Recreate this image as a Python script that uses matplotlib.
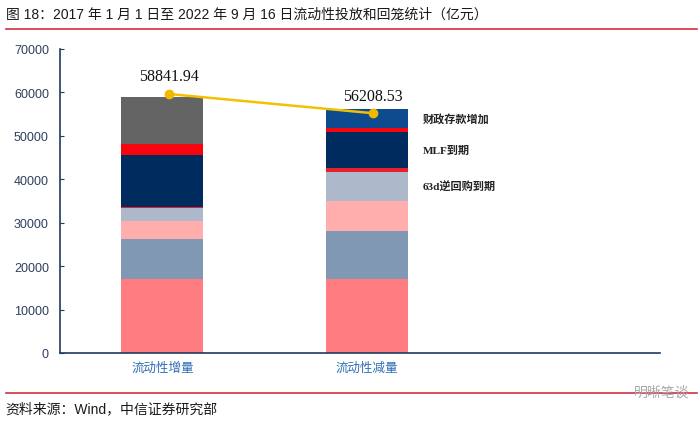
import matplotlib.pyplot as plt
import numpy as np

plt.rcParams['font.family'] = ['Liberation Sans', 'Noto Sans CJK SC', 'DejaVu Sans']

# data (亿元)
categories = ['流动性增量', '流动性减量']
totals = [58841.94, 56208.53]

seg_salmon = [17050, 17050]
seg_steel = [9220, 10990]
seg_pink = [4210, 7050]
seg_greyblue = [2900, 6550]
seg_red_low = [300, 920]
seg_navy = [11890, 8280]
seg_red_high = [2540, 930]
seg_gray = [10731.94, 0]
seg_blue = [0, 4438.53]

segments = [seg_salmon, seg_steel, seg_pink, seg_greyblue, seg_red_low,
            seg_navy, seg_red_high, seg_gray, seg_blue]
colors = ['#FF7C80', '#8098B4', '#FFADAD', '#ADB9CA', '#E8202A',
          '#002B5E', '#F5060F', '#646464', '#0E4A8E']

side_labels = {3: '63d逆回购到期', 5: 'MLF到期', 8: '财政存款增加'}

fig = plt.figure(figsize=(7, 4.27), dpi=100)
ax = fig.add_axes([0.0857, 0.171, 0.857, 0.712])

x = np.arange(len(categories))
bottom = np.zeros(len(categories))
mids = {}
for i, (vals, c) in enumerate(zip(segments, colors)):
    vals = np.array(vals, dtype=float)
    ax.bar(x, vals, 0.4, bottom=bottom, color=c, linewidth=0)
    mids[i] = bottom + vals / 2
    bottom = bottom + vals

# total line sits on its own (hidden) secondary scale, like the Excel original
ax2 = ax.twinx()
ax2.set_ylim(23500, 64980)
ax2.axis('off')
ax2.plot(x + 0.03, totals, color='#F2C200', lw=1.8, marker='o', ms=6,
         markerfacecolor='#F2B800', markeredgecolor='#F2B800', zorder=5)
for xi, t in zip(x, totals):
    ax2.annotate(f'{t:.2f}', (xi + 0.03, t), xytext=(0, 7),
                 textcoords='offset points', ha='center', va='bottom',
                 fontsize=11.5, family='Liberation Serif', color='#111111')

for i, lab in side_labels.items():
    ax.text(x[1] + 0.27, mids[i][1], lab, ha='left', va='center',
            fontsize=8, family=['Liberation Serif', 'Noto Sans CJK SC'],
            color='#222222', fontweight='bold')

spine_col = '#1F3A60'
ax.set_xlim(-0.5, 2.43)
ax2.set_xlim(-0.5, 2.43)
ax.set_ylim(0, 70000)
ax.set_yticks(np.arange(0, 70001, 10000))
ax.set_xticks(x)
ax.set_xticklabels(categories, color='#2E6DB4', fontsize=9)
ax.tick_params(axis='y', direction='in', length=3, color=spine_col,
               labelcolor='#2F3F5F', labelsize=9, pad=8)
ax.tick_params(axis='x', length=0, pad=6)
for s in ['top', 'right']:
    ax.spines[s].set_visible(False)
for s in ['left', 'bottom']:
    ax.spines[s].set_color(spine_col)
    ax.spines[s].set_linewidth(1.2)

# header and footer
fig.text(0.008, 0.965, '图 18：2017 年 1 月 1 日至 2022 年 9 月 16 日流动性投放和回笼统计（亿元）',
         fontsize=10, color='#1a1a1a', va='center', ha='left')
fig.add_artist(plt.Line2D([0.008, 0.995], [0.93, 0.93], color='#D03040', lw=1.2))
fig.add_artist(plt.Line2D([0.008, 0.995], [0.078, 0.078], color='#D03040', lw=1.2))
fig.text(0.008, 0.042, '资料来源：Wind，中信证券研究部', fontsize=10,
         color='#1a1a1a', va='center', ha='left')
fig.text(0.985, 0.08, '明晰笔谈', fontsize=10, color='#A8A8A8', va='center',
         ha='right')

fig.savefig('out.png', dpi=100)
